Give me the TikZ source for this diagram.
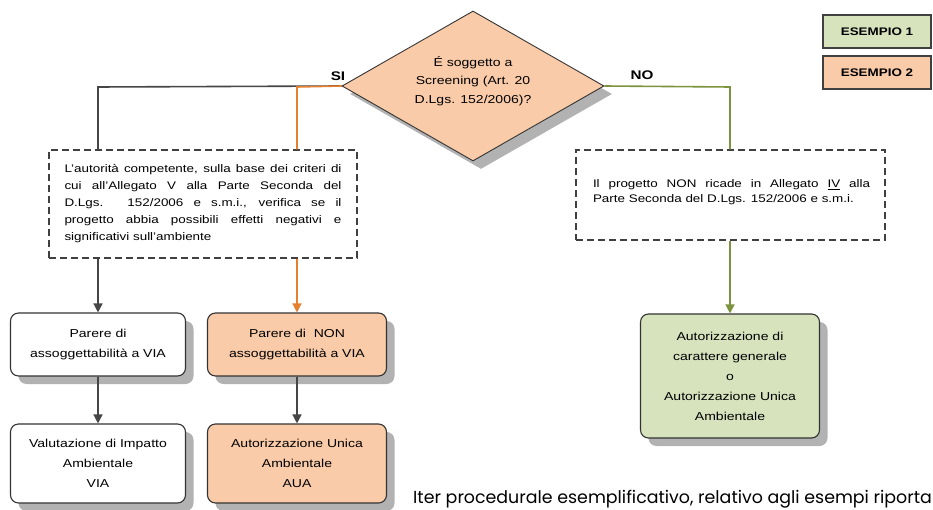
\documentclass[tikz,border=0pt]{standalone}
\usepackage{fontspec}
\setmainfont{Liberation Sans}[FakeStretch=1.22]
\newfontfamily\capfont{Poppins}
\usetikzlibrary{shapes.geometric,arrows.meta,shadows}
\definecolor{peach}{RGB}{250,203,168}
\definecolor{lgreen}{RGB}{214,227,188}
\definecolor{orline}{RGB}{228,128,48}
\definecolor{grline}{RGB}{124,148,62}
\definecolor{dline}{RGB}{70,70,70}
\definecolor{shgray}{RGB}{178,178,178}
\newcommand{\jline}[1]{\makebox[277pt][s]{#1}\\}
\begin{document}
\begin{tikzpicture}[x=1pt,y=-1pt,
  shd/.style={drop shadow={shadow xshift=8pt,shadow yshift=-8pt,fill=shgray,opacity=1}},
  rbox/.style={draw=black!80,line width=1.1pt,rounded corners=8pt,shd,fill=white,
    font=\fontsize{11.5}{20}\selectfont,align=center,inner sep=0pt},
  dbox/.style={draw=black!75,line width=1.3pt,dash pattern=on 7pt off 4pt,
    inner sep=0pt},
  legbox/.style={draw=black!75,line width=1.1pt,minimum width=108pt,minimum height=33pt,
    font=\bfseries\fontsize{11}{13}\selectfont,inner sep=0pt},
  lab/.style={font=\bfseries\fontsize{12.5}{14}\selectfont,inner sep=0pt},
  arr/.style={line width=1.4pt,-{Triangle[length=9pt,width=9pt]}},
  ln/.style={line width=1.6pt}
]
\useasboundingbox (0,0) rectangle (933,510);
\fill[white] (0,0) rectangle (933,510);

% decision
\node[diamond,draw=black!80,line width=0.9pt,fill=peach,minimum width=262pt,minimum height=150pt,
  inner sep=0pt,shd] (q) at (473,86) {};
\node[align=center,font=\fontsize{11.5}{18.5}\selectfont,inner sep=0pt] (qt) at (473,81)
  {É soggetto a\\Screening (Art. 20\\D.Lgs. 152/2006)?};

% dashed boxes
\node[dbox,minimum width=308pt,minimum height=108pt] (lb) at (203,204) {};
\node[inner sep=0pt,align=left,font=\fontsize{11}{17}\selectfont] (lbt) at (lb.center)
  {\jline{L'autorità competente, sulla base dei criteri di}%
   \jline{cui all'Allegato V alla Parte Seconda del}%
   \jline{D.Lgs. 152/2006 e s.m.i., verifica se il}%
   \jline{progetto abbia possibili effetti negativi e}%
   \makebox[277pt][l]{significativi sull'ambiente}};
\node[dbox,minimum width=309pt,minimum height=90pt] (rb) at (730.5,195) {};
\node[inner sep=0pt,align=left,font=\fontsize{11}{15}\selectfont] (rbt) at (731.5,192.5)
  {\jline{Il progetto NON ricade in Allegato \underline{IV} alla}%
   \makebox[277pt][l]{Parte Seconda del D.Lgs. 152/2006 e s.m.i.}};

% boxes
\node[rbox,minimum width=175pt,minimum height=63pt] (p1) at (98,344.5) {Parere di\\assoggettabilità a VIA};
\node[rbox,fill=peach,minimum width=179pt,minimum height=63pt] (p2) at (297,344.5) {Parere di~ NON\\assoggettabilità a VIA};
\node[rbox,minimum width=175pt,minimum height=79pt] (v1) at (98,463.5) {Valutazione di Impatto\\Ambientale\\VIA};
\node[rbox,fill=peach,minimum width=179pt,minimum height=79pt] (a2) at (297,463.5) {Autorizzazione Unica\\Ambientale\\AUA};
\node[rbox,fill=lgreen,minimum width=179pt,minimum height=124pt] (g) at (730,376)
  {Autorizzazione di\\carattere generale\\o\\Autorizzazione Unica\\Ambientale};

% legend
\node[legbox,fill=lgreen] (e1) at (877,31.5) {ESEMPIO 1};
\node[legbox,fill=peach] (e2) at (877,72.5) {ESEMPIO 2};

% connectors
\coordinate (siL) at (98,87);
\coordinate (siO) at (297,87);
\coordinate (noR) at (730,87);
\draw[ln,draw=dline] (q.west) -- (siL) -- (siL |- lb.north);
\draw[ln,draw=orline] (q.west) -- (siO) -- (siO |- lb.north);
\draw[ln,draw=grline] (q.east) -- (noR) -- (noR |- rb.north);
\node[lab] (si) at (338,76) {SI};
\node[lab] (no) at (642,75) {NO};

\draw[arr,draw=dline,fill=black] (siL |- lb.south) -- (p1.north);
\draw[arr,draw=orline,fill=orline] (siO |- lb.south) -- (p2.north);
\draw[arr,draw=dline,fill=black] (p1.south) -- (v1.north);
\draw[arr,draw=dline,fill=black] (p2.south) -- (a2.north);
\draw[arr,draw=grline,fill=grline] (noR |- rb.south) -- (g.north);

% caption
\node[anchor=base west,inner sep=0pt,font=\capfont\fontsize{17.4}{19}\selectfont] (cap) at (413,503.5)
  {Iter procedurale esemplificativo, relativo agli esempi riporta};
\end{tikzpicture}
\end{document}
